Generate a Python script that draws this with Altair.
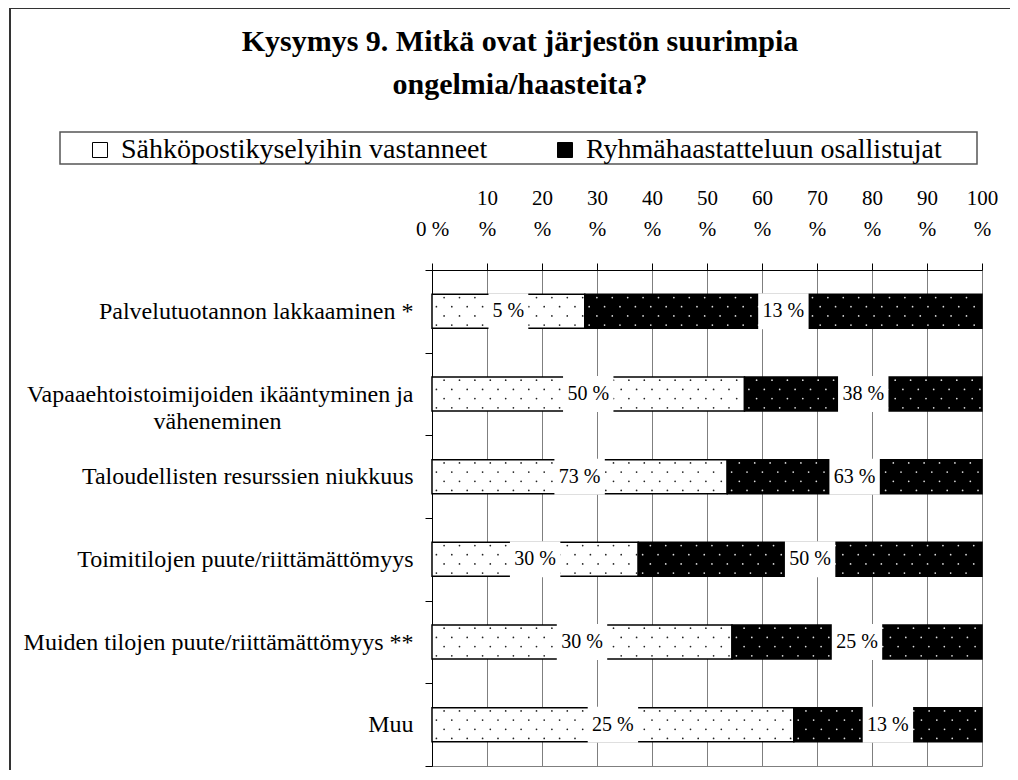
import altair as alt
import pandas as pd

categories = [
    "Palvelutuotannon lakkaaminen *",
    "Vapaaehtoistoimijoiden ikääntyminen ja väheneminen",
    "Taloudellisten resurssien niukkuus",
    "Toimitilojen puute/riittämättömyys",
    "Muiden tilojen puute/riittämättömyys **",
    "Muu",
]
series_names = ["Sähköpostikyselyihin vastanneet", "Ryhmähaastatteluun osallistujat"]
email_values = [5, 50, 73, 30, 30, 25]
group_values = [13, 38, 63, 50, 25, 13]
x_ticks = [0, 10, 20, 30, 40, 50, 60, 70, 80, 90, 100]
title_lines = ["Kysymys 9. Mitkä ovat järjestön suurimpia", "ongelmia/haasteita?"]

rows = []
for i, c in enumerate(categories):
    rows.append({"cat": c, "series": series_names[0], "order": 0, "value": email_values[i]})
    rows.append({"cat": c, "series": series_names[1], "order": 1, "value": group_values[i]})
df = pd.DataFrame(rows)

FONT = "Liberation Serif"
W, H = 550, 496
PAD2 = "\u00a0" * 22 + "\u200b"

y_label_expr = (
    "datum.label == 'Vapaaehtoistoimijoiden ikääntyminen ja väheneminen' ? "
    "['Vapaaehtoistoimijoiden ikääntyminen ja', 'väheneminen" + PAD2 + "'] : datum.label"
)

y_enc = alt.Y(
    "cat:N",
    sort=categories,
    scale=alt.Scale(paddingInner=0, paddingOuter=0),
    axis=alt.Axis(
        title=None,
        labelExpr=y_label_expr,
        tickBand="extent",
        tickSize=7,
        tickColor="black",
        domainColor="black",
        labelFont=FONT,
        labelFontSize=24,
        labelColor="black",
        labelPadding=12,
        labelLimit=500,
        labelLineHeight=27,
    ),
)

base = (
    alt.Chart(df)
    .transform_joinaggregate(total="sum(value)", groupby=["cat"])
    .transform_calculate(pct="datum.value / datum.total * 100")
    .transform_stack(stack="pct", groupby=["cat"], sort=[alt.SortField("order")], as_=["x0", "x1"])
    .transform_calculate(
        mid="(datum.x0 + datum.x1) / 2",
        label="datum.value + ' %'",
    )
    .transform_calculate(half="(length(datum.label) * 5.3 + 4) / 5.5")
    .transform_calculate(lo="datum.mid - datum.half", hi="datum.mid + datum.half")
)

x_axis = alt.Axis(
    orient="top",
    values=x_ticks,
    labelExpr="datum.value == 0 ? ['', '0 %'] : [datum.value + '', '%']",
    title=None,
    grid=True,
    gridColor="#7f7f7f",
    gridWidth=1,
    gridOpacity=1,
    tickSize=7,
    tickColor="black",
    domainColor="black",
    labelFont=FONT,
    labelFontSize=21,
    labelColor="black",
    labelPadding=55,
    labelLineHeight=31,
    labelAngle=0,
    labelFlush=False,
    labelOverlap=False,
)

bars = base.mark_bar(size=34, stroke="black", strokeWidth=1.5).encode(
    x=alt.X("x0:Q", scale=alt.Scale(domain=[0, 100], nice=False), axis=x_axis),
    x2="x1:Q",
    y=y_enc,
    color=alt.Color(
        "series:N",
        sort=series_names,
        scale=alt.Scale(domain=series_names, range=["#ffffff", "#000000"]),
        legend=alt.Legend(
            title=None,
            orient="none",
            legendX=-346,
            legendY=-134,
            direction="horizontal",
            symbolType="square",
            symbolSize=225,
            symbolStrokeColor="black",
            symbolStrokeWidth=1,
            labelFont=FONT,
            labelFontSize=28,
            labelColor="black",
            labelLimit=600,
            labelOffset=7,
            columnPadding=63,
            padding=0,
        ),
    ),
)

# dotted texture inside each bar segment (pattern fill emulation)
dots = (
    base.transform_calculate(rowlist="[3, 4, 5, 6]")
    .transform_flatten(["rowlist"], as_=["prow"])
    .transform_calculate(
        xs="sequence(datum.x0 + 0.8 + (datum.prow % 2) * 1.4, datum.x1 - 0.3, 2.8)"
    )
    .transform_flatten(["xs"], as_=["xd"])
    .mark_circle(size=3, opacity=1)
    .encode(
        x="xd:Q",
        y=alt.Y("cat:N", sort=categories),
        yOffset=alt.YOffset(
            "prow:O",
            scale=alt.Scale(domain=list(range(10)), paddingInner=0, paddingOuter=0),
        ),
        color=alt.condition("datum.order == 0", alt.value("#222222"), alt.value("#dddddd")),
    )
)

boxes = base.mark_bar(size=36, color="white").encode(
    x="lo:Q",
    x2="hi:Q",
    y=alt.Y("cat:N", sort=categories),
)

labels = base.mark_text(font=FONT, fontSize=20, color="black", baseline="middle").encode(
    x="mid:Q",
    y=alt.Y("cat:N", sort=categories),
    text="label:N",
)

one = alt.Data(values=[{"k": 1}])

frame = alt.Chart(one).mark_rect(fill=None, stroke="#333333", strokeWidth=2).encode(
    x=alt.value(-422),
    x2=alt.value(700),
    y=alt.value(-262),
    y2=alt.value(600),
)

legend_box = alt.Chart(one).mark_rect(fill="white", stroke="#555555", strokeWidth=1.5).encode(
    x=alt.value(-372),
    x2=alt.value(545),
    y=alt.value(-138),
    y2=alt.value(-106),
)

title = alt.Chart(one).mark_text(
    text=title_lines,
    font=FONT,
    fontSize=30,
    fontWeight="bold",
    color="black",
    align="center",
    baseline="top",
    lineHeight=43,
).encode(x=alt.value(88), y=alt.value(-243))

chart = (
    alt.layer(frame, legend_box, title, bars, dots, boxes, labels)
    .properties(
        width=W,
        height=H,
        autosize=alt.AutoSizeParams(type="none"),
        padding={"left": 424, "top": 262, "right": 28, "bottom": 4},
    )
    .configure_view(stroke="#7f7f7f", strokeWidth=1)
    .configure_axis(grid=False)
)

chart.save("out.html", embed_options={"renderer": "svg", "actions": False})
